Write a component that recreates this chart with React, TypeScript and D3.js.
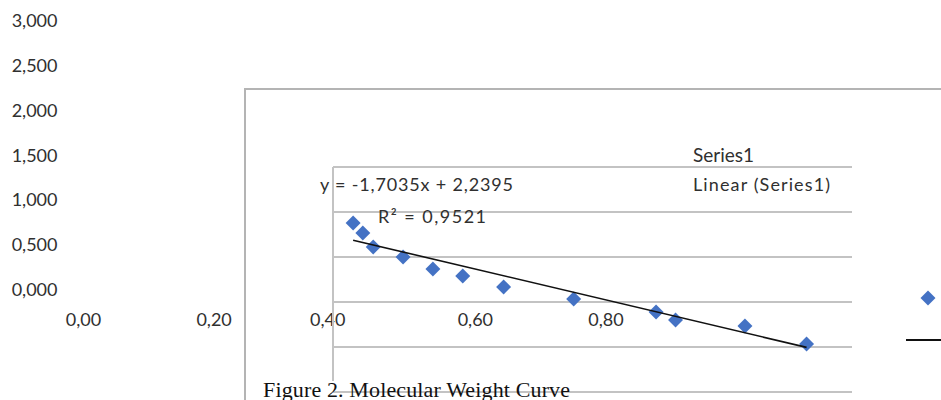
import React, { useEffect } from "react";
import * as d3 from "d3";

// standards: relative mobility vs log MW
const rf = [0.031, 0.046, 0.062, 0.108, 0.154, 0.2, 0.263, 0.371, 0.498, 0.528, 0.635, 0.73];
const logMw = [2.378, 2.267, 2.111, 2.0, 1.867, 1.789, 1.667, 1.533, 1.389, 1.3, 1.233, 1.033];

const yTicks = [0, 0.5, 1, 1.5, 2, 2.5, 3];
const xTicks = [0, 0.2, 0.4, 0.6, 0.8];

const slope = -1.7035;
const intercept = 2.2395;
const rSquared = 0.9521;

const seriesName = "Series1";
const caption = "Figure 2. Molecular Weight Curve";

const W = 941;
const H = 400;

const comma = d3.formatLocale({ decimal: ",", thousands: ".", grouping: [3], currency: ["", ""], minus: "-" });
const fmtY = comma.format(".3f");
const fmtX = comma.format(".2f");
const fmtCoef = comma.format(".4f");

const blue = "#4472C4";
const grid = "#c3c3c3";
const ink = "#303030";
const labelFont = "Lato, 'Open Sans', sans-serif";

export default function App() {
  useEffect(() => {
    document.body.style.margin = "0";
  }, []);

  // plot area (the inner chart)
  const x = d3.scaleLinear().domain([0, 0.8]).range([333, 852]);
  const y = d3.scaleLinear().domain([0, 3]).range([437, 167]);

  // displaced axis labels
  const xLab = d3.scaleLinear().domain([0, 0.8]).range([83.5, 606]);
  const yLab = d3.scaleLinear().domain([0, 3]).range([296, 27]);

  const points = rf.map((r, i) => ({ x: r, y: logMw[i] }));
  const xExt = d3.extent(rf) as [number, number];
  const trendLine = d3
    .line<number>()
    .x((d) => x(d))
    .y((d) => y(slope * d + intercept))(xExt);

  const diamond = d3.symbol().type(d3.symbolSquare).size(112)();

  return (
    <svg width={W} height={H} style={{ position: "absolute", left: 0, top: 0, background: "#fff" }}>
      {/* outer frame */}
      <path d={`M245,400V89H${W}`} fill="none" stroke="#b4b4b4" strokeWidth={2} />

      {/* y labels */}
      {yTicks.map((t) => (
        <text key={"y" + t} x={57.5} y={yLab(t)} textAnchor="end" fontFamily={labelFont} fontSize={18} fill={ink}>
          {fmtY(t)}
        </text>
      ))}

      {/* x labels */}
      {xTicks.map((t) => (
        <text
          key={"x" + t}
          x={xLab(t)}
          dx={t === 0.4 ? -17 : 0}
          y={326}
          textAnchor="middle"
          fontFamily={labelFont}
          fontSize={18}
          fill={ink}
        >
          {fmtX(t)}
        </text>
      ))}

      {/* gridlines */}
      {yTicks.map((t) => (
        <line key={"g" + t} x1={x(0)} x2={x(0.8)} y1={y(t)} y2={y(t)} stroke={grid} strokeWidth={2} />
      ))}
      <line x1={x(0)} x2={x(0)} y1={y(3)} y2={381} stroke={grid} strokeWidth={2} />

      {/* points */}
      {points.map((p, i) => (
        <path key={i} d={diamond!} transform={`translate(${x(p.x)},${y(p.y)}) rotate(45)`} fill={blue} />
      ))}

      {/* trendline */}
      <path d={trendLine!} fill="none" stroke="#111" strokeWidth={1.6} />

      {/* equation */}
      <text x={320} y={191} fontFamily={labelFont} fontSize={18} fill={ink} textLength={193} lengthAdjust="spacing">
        {`y = ${fmtCoef(slope)}x + ${fmtCoef(intercept)}`}
      </text>
      <text x={378} y={223} fontFamily={labelFont} fontSize={18} fill={ink} textLength={108} lengthAdjust="spacing">
        {`R² = ${fmtCoef(rSquared)}`}
      </text>

      {/* legend */}
      <text x={693} y={162} fontFamily={labelFont} fontSize={19} fill={ink}>
        {seriesName}
      </text>
      <text x={693} y={191} fontFamily={labelFont} fontSize={18} fill={ink} textLength={137} lengthAdjust="spacing">
        {`Linear (${seriesName})`}
      </text>
      <path d={diamond!} transform="translate(928,298) rotate(45)" fill={blue} />
      <line x1={906} x2={W} y1={340} y2={340} stroke="#111" strokeWidth={2} />

      {/* caption */}
      <text x={263} y={397} fontFamily="'Liberation Serif', 'Times New Roman', serif" fontSize={22} fill="#111" textLength={307} lengthAdjust="spacing">
        {caption}
      </text>
    </svg>
  );
}
